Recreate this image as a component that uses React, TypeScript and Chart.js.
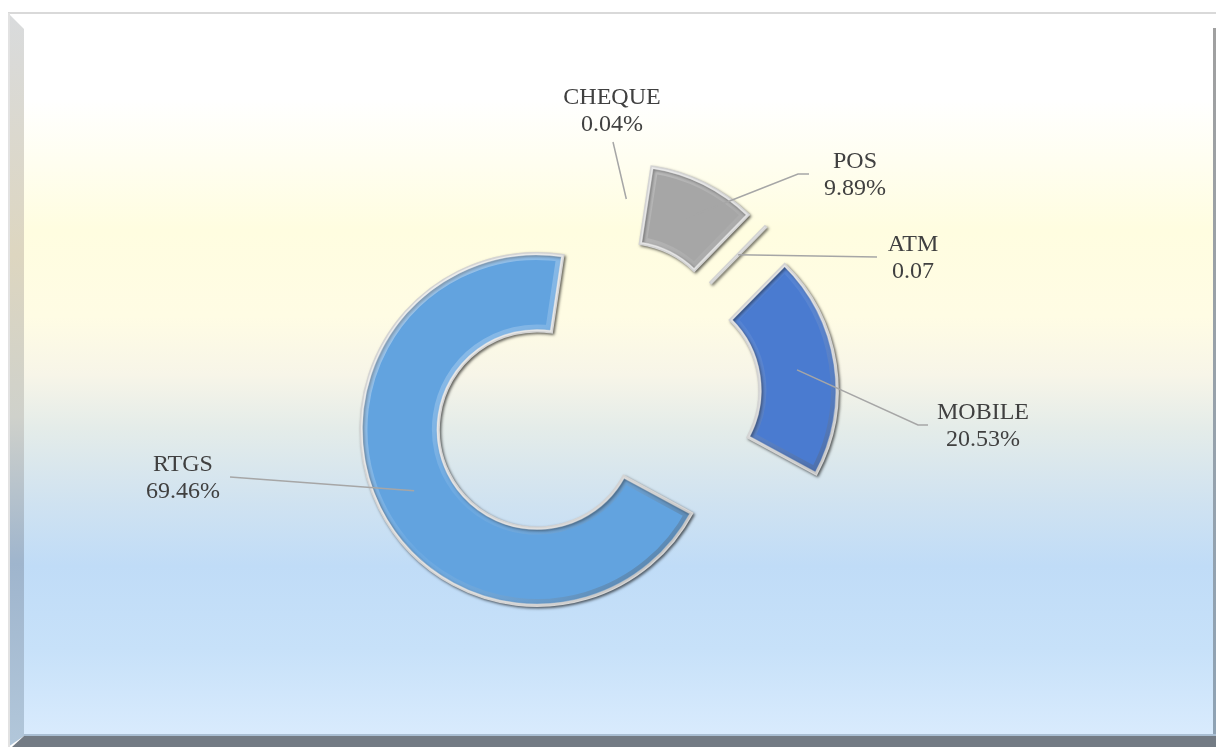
import React, { useEffect, useRef } from "react";
import { Chart, registerables } from "chart.js";

Chart.register(...registerables);

// ---------- data ----------
const categories = ["CHEQUE", "POS", "ATM", "MOBILE", "RTGS"];
const shares = [0.04, 9.89, 0.07, 20.53, 69.46];
const valueLabels = ["0.04%", "9.89%", "0.07", "20.53%", "69.46%"];
const sliceColors = ["rgba(166,166,166,0)", "#a6a6a6", "#a6a6a6", "#4a7bd0", "#62a3df"];
const sliceBorders = [0, 3, 3, 3, 3];

// ---------- layout (label text centre + leader end points) ----------
const labelX = [612, 855, 913, 983, 183];
const labelY = [98, 162, 245, 413, 465];
const leaderPaths: number[][][] = [
  [[613, 142]],
  [[798, 174], [809, 174]],
  [[877, 257]],
  [[918, 425], [928, 425]],
  [[230, 477]],
];
const EXPLODE = 66;

function arcPath(ctx: CanvasRenderingContext2D, x: number, y: number, inner: number, outer: number, s: number, e: number) {
  ctx.beginPath();
  ctx.arc(x, y, outer, s, e);
  ctx.arc(x, y, inner, e, s, true);
  ctx.closePath();
}

const backgroundPlugin = {
  id: "frameBackground",
  beforeDraw(chart: any) {
    const ctx: CanvasRenderingContext2D = chart.ctx;
    const W = chart.width;
    const H = chart.height;
    ctx.save();
    ctx.fillStyle = "#ffffff";
    ctx.fillRect(0, 0, W, H);
    const g = ctx.createLinearGradient(0, 13, 0, 736);
    g.addColorStop(0, "#ffffff");
    g.addColorStop(0.12, "#ffffff");
    g.addColorStop(0.3, "#fffde0");
    g.addColorStop(0.42, "#fffce4");
    g.addColorStop(0.5, "#f7f5e8");
    g.addColorStop(0.575, "#e4ece9");
    g.addColorStop(0.68, "#cfe2f1");
    g.addColorStop(0.765, "#c0dcf7");
    g.addColorStop(0.88, "#c7e1f9");
    g.addColorStop(1, "#d9ebfd");
    ctx.fillStyle = g;
    ctx.fillRect(24, 13, 1190, 723);
    ctx.fillStyle = "#d9d9d9";
    ctx.fillRect(8, 12, W - 8, 2);
    const lg = ctx.createLinearGradient(0, 13, 0, 747);
    lg.addColorStop(0, "#d9dbdd");
    lg.addColorStop(0.33, "#ddd6c0");
    lg.addColorStop(0.55, "#cfd1cb");
    lg.addColorStop(0.75, "#9fb5cd");
    lg.addColorStop(1, "#b2c7da");
    ctx.fillStyle = lg;
    ctx.beginPath();
    ctx.moveTo(8, 13);
    ctx.lineTo(24, 29);
    ctx.lineTo(24, 736);
    ctx.lineTo(8, 747);
    ctx.closePath();
    ctx.fill();
    ctx.fillStyle = "#e2e2e2";
    ctx.fillRect(8, 13, 2, 734);
    const rg = ctx.createLinearGradient(0, 28, 0, 736);
    rg.addColorStop(0, "#a0a0a0");
    rg.addColorStop(1, "#8ea2b4");
    ctx.fillStyle = rg;
    ctx.fillRect(1213, 28, 3, 708);
    ctx.fillStyle = "#a9bed2";
    ctx.fillRect(24, 734, W - 24, 2);
    ctx.fillStyle = "#737b84";
    ctx.beginPath();
    ctx.moveTo(12, 747);
    ctx.lineTo(24, 736);
    ctx.lineTo(W, 736);
    ctx.lineTo(W, 747);
    ctx.closePath();
    ctx.fill();
    ctx.restore();
  },
};

const explodePlugin = {
  id: "explodeArcs",
  beforeDatasetDraw(chart: any, args: any) {
    const ctx: CanvasRenderingContext2D = chart.ctx;
    const arcs = args.meta.data;
    arcs.forEach((arc: any, i: number) => {
      const mid = (arc.startAngle + arc.endAngle) / 2;
      const dx = Math.cos(mid) * EXPLODE;
      const dy = Math.sin(mid) * EXPLODE;
      const visible = sliceBorders[i] > 0;
      ctx.save();
      ctx.translate(dx, dy);
      if (visible) {
        ctx.shadowColor = "rgba(0,0,0,0.5)";
        ctx.shadowBlur = 3;
        ctx.shadowOffsetX = 1.5;
        ctx.shadowOffsetY = 1.5;
      }
      arc.draw(ctx);
      ctx.restore();
      if (!visible) return;

      // bevel overlay
      const x = arc.x + dx;
      const y = arc.y + dy;
      const inner = arc.innerRadius;
      const outer = arc.outerRadius;
      ctx.save();
      arcPath(ctx, x, y, inner, outer, arc.startAngle, arc.endAngle);
      ctx.clip();
      const bg = ctx.createLinearGradient(x - outer, y - outer, x + outer, y + outer);
      bg.addColorStop(0, "rgba(255,255,255,0.5)");
      bg.addColorStop(0.5, "rgba(255,255,255,0.05)");
      bg.addColorStop(1, "rgba(0,0,0,0.4)");
      ctx.strokeStyle = bg;
      ctx.lineJoin = "miter";
      ctx.lineWidth = 13;
      arcPath(ctx, x, y, inner, outer, arc.startAngle, arc.endAngle);
      ctx.stroke();
      ctx.strokeStyle = "rgba(255,255,255,0.3)";
      ctx.lineWidth = 4;
      ctx.stroke();
      ctx.restore();
    });
    return false;
  },
};

const labelPlugin = {
  id: "leaderLabels",
  afterDatasetsDraw(chart: any) {
    const ctx: CanvasRenderingContext2D = chart.ctx;
    const arcs = chart.getDatasetMeta(0).data;
    ctx.save();
    arcs.forEach((arc: any, i: number) => {
      const mid = (arc.startAngle + arc.endAngle) / 2;
      const r = EXPLODE + (arc.innerRadius + arc.outerRadius) / 2;
      const ax = arc.x + Math.cos(mid) * r;
      const ay = arc.y + Math.sin(mid) * r;
      ctx.strokeStyle = "#a6a6a6";
      ctx.lineWidth = 1.5;
      ctx.beginPath();
      ctx.moveTo(ax, ay);
      leaderPaths[i].forEach((p) => ctx.lineTo(p[0], p[1]));
      ctx.stroke();
      ctx.fillStyle = "#404040";
      ctx.font = '24px "Liberation Serif", "Times New Roman", serif';
      ctx.textAlign = "center";
      ctx.textBaseline = "middle";
      ctx.fillText(categories[i], labelX[i], labelY[i]);
      ctx.fillText(valueLabels[i], labelX[i], labelY[i] + 27);
    });
    ctx.restore();
  },
};

export default function App() {
  const ref = useRef<HTMLCanvasElement | null>(null);
  useEffect(() => {
    document.body.style.margin = "0";
    const canvas = ref.current;
    if (!canvas) return;
    const chart = new Chart(canvas, {
      type: "doughnut",
      data: {
        labels: categories,
        datasets: [
          {
            data: shares,
            backgroundColor: sliceColors,
            borderColor: "#d4d4d4",
            borderWidth: sliceBorders,
            borderJoinStyle: "miter",
          } as any,
        ],
      },
      options: {
        responsive: false,
        animation: false,
        rotation: 8.5,
        radius: 176,
        cutout: "56%",
        layout: { padding: { left: 0, right: 24, top: 53, bottom: 0 } },
        plugins: {
          legend: { display: false },
          tooltip: { enabled: false },
          title: { display: false },
        },
        events: [],
      } as any,
      plugins: [backgroundPlugin, explodePlugin, labelPlugin],
    });
    return () => chart.destroy();
  }, []);
  return (
    <div style={{ width: 1216, height: 747, overflow: "hidden" }}>
      <canvas ref={ref} width={1216} height={747} style={{ display: "block" }} />
    </div>
  );
}
